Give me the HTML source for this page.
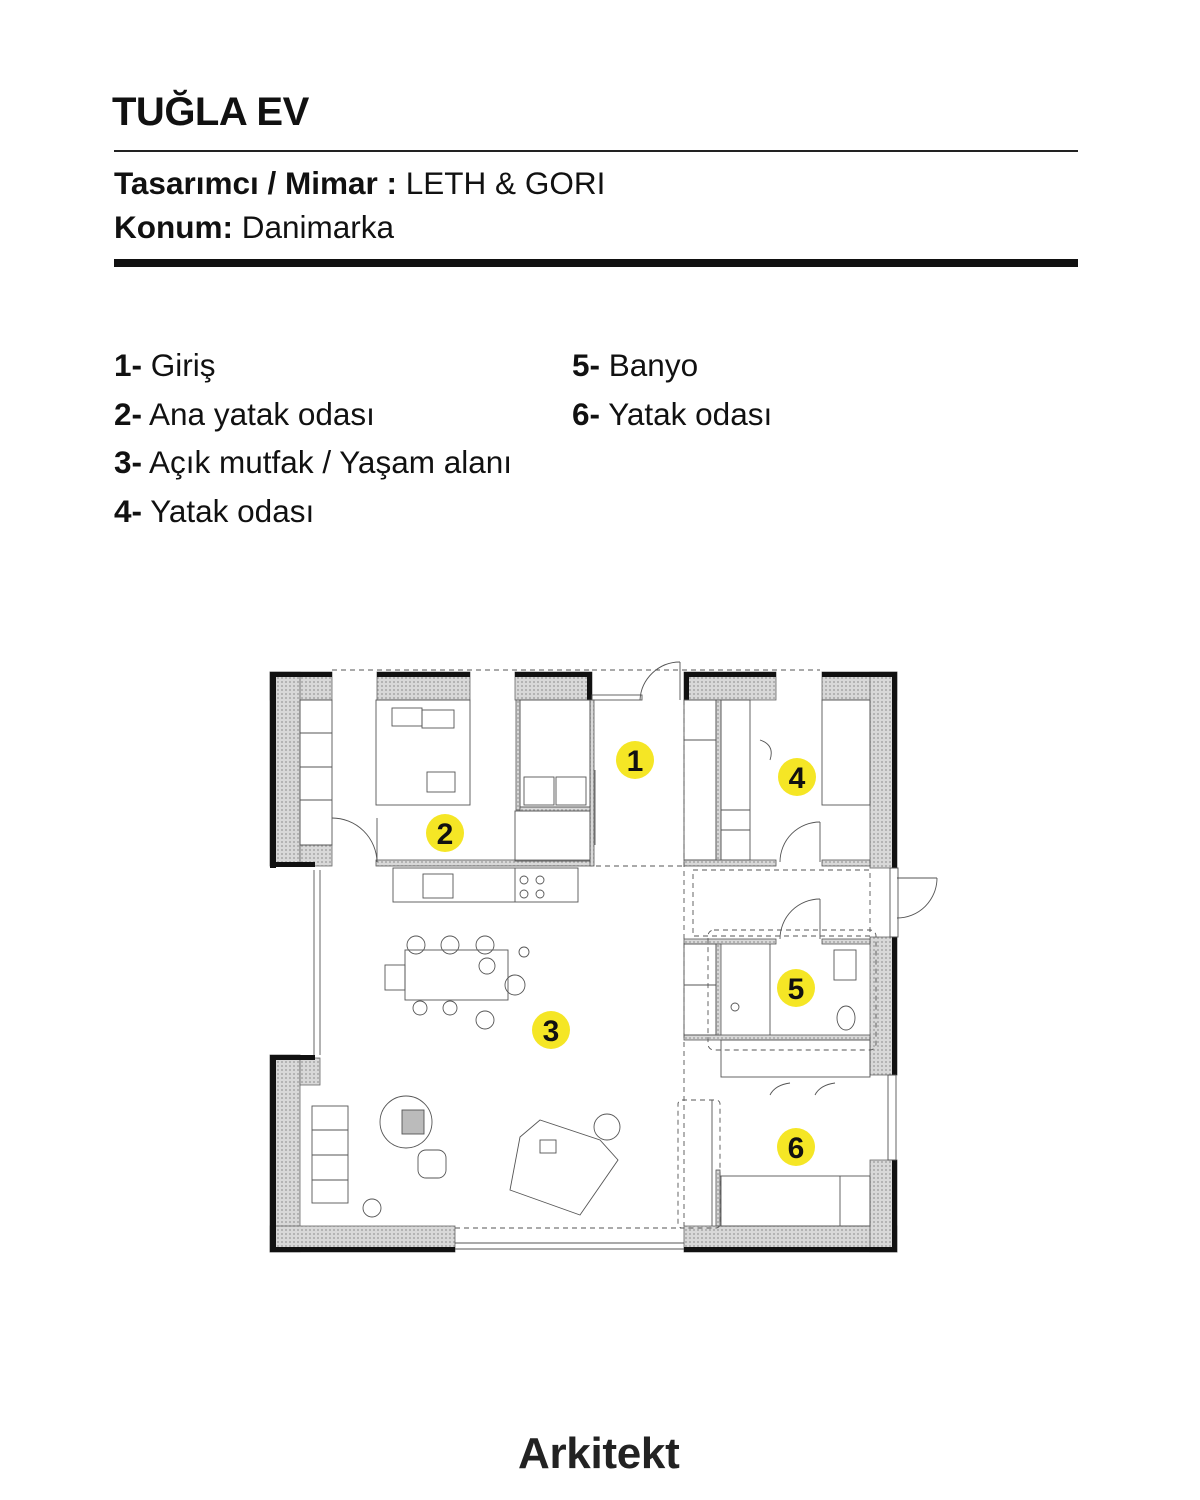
<!DOCTYPE html>
<html><head><meta charset="utf-8"><style>
html,body{margin:0;padding:0;background:#fff;}
body{width:1200px;height:1500px;position:relative;font-family:"Liberation Sans",Arial,sans-serif;color:#111;overflow:hidden;}
.t{position:absolute;white-space:nowrap;}
</style></head><body>
<div class="t" style="left:112px;top:90px;font-size:40px;font-weight:bold;letter-spacing:-0.5px;">TUĞLA EV</div>
<div style="position:absolute;left:114px;top:150px;width:964px;height:2px;background:#222;"></div>
<div class="t" style="left:114px;top:165px;font-size:31.5px;"><b>Tasarımcı / Mimar :</b> LETH &amp; GORI</div>
<div class="t" style="left:114px;top:209px;font-size:31.5px;"><b>Konum:</b> Danimarka</div>
<div style="position:absolute;left:114px;top:259px;width:964px;height:8px;background:#111;"></div>

<div class="t" style="left:114px;top:347px;font-size:31.5px;"><b>1-</b> Giriş</div>
<div class="t" style="left:114px;top:396px;font-size:31.5px;"><b>2-</b> Ana yatak odası</div>
<div class="t" style="left:114px;top:444px;font-size:31.5px;"><b>3-</b> Açık mutfak / Yaşam alanı</div>
<div class="t" style="left:114px;top:493px;font-size:31.5px;"><b>4-</b> Yatak odası</div>
<div class="t" style="left:572px;top:347px;font-size:31.5px;"><b>5-</b> Banyo</div>
<div class="t" style="left:572px;top:396px;font-size:31.5px;"><b>6-</b> Yatak odası</div>

<svg style="position:absolute;left:0;top:0" width="1200" height="1500">
<defs>
<pattern id="h" width="4" height="4" patternUnits="userSpaceOnUse"><rect width="4" height="4" fill="#d8d8d8"/><circle cx="2" cy="2" r="0.9" fill="#999"/></pattern>
</defs>
<g fill="url(#h)" stroke="#666" stroke-width="0.8">
<rect x="270" y="672" width="62" height="28"/>
<rect x="377" y="672" width="93" height="28"/>
<rect x="515" y="672" width="77" height="28"/>
<rect x="684" y="672" width="92" height="28"/>
<rect x="822" y="672" width="75" height="28"/>
<rect x="270" y="672" width="30" height="194"/>
<rect x="270" y="1055" width="30" height="197"/>
<rect x="300" y="1058" width="20" height="27"/>
<rect x="270" y="1226" width="185" height="26"/>
<rect x="684" y="1226" width="213" height="26"/>
<rect x="870" y="672" width="27" height="196"/>
<rect x="870" y="937" width="27" height="138"/>
<rect x="870" y="1160" width="27" height="92"/>
<rect x="300" y="845" width="32" height="21"/>
</g>
<g fill="#111">
<rect x="270" y="672" width="62" height="5"/><rect x="377" y="672" width="93" height="5"/><rect x="515" y="672" width="77" height="5"/>
<rect x="587" y="672" width="5" height="28"/>
<rect x="684" y="672" width="92" height="5"/><rect x="684" y="672" width="5" height="28"/><rect x="822" y="672" width="75" height="5"/>
<rect x="270" y="672" width="6" height="196"/><rect x="270" y="862" width="45" height="5"/>
<rect x="270" y="1055" width="6" height="197"/><rect x="270" y="1055" width="45" height="5"/>
<rect x="270" y="1247" width="185" height="5"/><rect x="684" y="1247" width="213" height="5"/>
<rect x="892" y="672" width="5" height="196"/><rect x="892" y="937" width="5" height="138"/><rect x="892" y="1160" width="5" height="92"/>
</g>
<g fill="url(#h)" stroke="#555" stroke-width="0.8">
<rect x="376" y="860" width="216" height="6"/>
<rect x="684" y="860" width="92" height="6"/><rect x="822" y="860" width="48" height="6"/>
<rect x="590" y="700" width="4" height="166"/>
<rect x="516" y="700" width="4" height="110"/>
<rect x="520" y="807" width="70" height="4"/>
<rect x="716" y="700" width="5" height="160"/>
<rect x="684" y="939" width="92" height="5"/><rect x="822" y="939" width="48" height="5"/>
<rect x="684" y="1035" width="186" height="5"/>
<rect x="716" y="944" width="5" height="91"/>
<rect x="716" y="1170" width="4" height="56"/>
</g>
<g fill="none" stroke="#555" stroke-width="0.9">
<rect x="300" y="700" width="32" height="145"/><line x1="300" y1="733" x2="332" y2="733"/><line x1="300" y1="767" x2="332" y2="767"/><line x1="300" y1="800" x2="332" y2="800"/>
<rect x="376" y="700" width="94" height="105"/><rect x="392" y="708" width="30" height="18"/><rect x="422" y="710" width="32" height="18"/>
<rect x="427" y="772" width="28" height="20"/>
<path d="M332 818 A45 45 0 0 1 377 862"/><line x1="377" y1="818" x2="377" y2="862"/>
<rect x="520" y="700" width="70" height="107"/><rect x="524" y="777" width="30" height="28"/><rect x="556" y="777" width="30" height="28"/>
<rect x="515" y="811" width="75" height="50"/>
<line x1="595" y1="770" x2="595" y2="845"/>
<path d="M640 700 A40 40 0 0 1 680 662"/><line x1="680" y1="662" x2="680" y2="700"/>
<rect x="592" y="695" width="50" height="5"/>
<line x1="592" y1="670" x2="820" y2="670" stroke-dasharray="5 4"/>
<line x1="332" y1="670" x2="592" y2="670" stroke-dasharray="5 4"/>
<rect x="684" y="700" width="32" height="160"/><line x1="684" y1="740" x2="716" y2="740"/>
<rect x="721" y="700" width="29" height="160"/><line x1="721" y1="810" x2="750" y2="810"/><line x1="721" y1="830" x2="750" y2="830"/>
<rect x="822" y="700" width="48" height="105"/>
<path d="M780 862 A40 40 0 0 1 820 822"/><line x1="820" y1="822" x2="820" y2="862"/>
<path d="M760 740 q15 5 10 20"/>
<rect x="393" y="868" width="185" height="34"/><rect x="423" y="874" width="30" height="24"/>
<circle cx="524" cy="880" r="4"/><circle cx="540" cy="880" r="4"/><circle cx="524" cy="894" r="4"/><circle cx="540" cy="894" r="4"/><line x1="515" y1="868" x2="515" y2="902"/>
<line x1="314" y1="870" x2="314" y2="1055"/><line x1="320" y1="870" x2="320" y2="1055"/>
<rect x="405" y="950" width="103" height="50"/><rect x="385" y="965" width="20" height="25"/>
<circle cx="416" cy="945" r="9"/><circle cx="450" cy="945" r="9"/><circle cx="485" cy="945" r="9"/>
<circle cx="420" cy="1008" r="7"/><circle cx="450" cy="1008" r="7"/><circle cx="485" cy="1020" r="9"/>
<circle cx="487" cy="966" r="8"/><circle cx="515" cy="985" r="10"/><circle cx="524" cy="952" r="5"/>
<rect x="312" y="1106" width="36" height="97"/><line x1="312" y1="1130" x2="348" y2="1130"/><line x1="312" y1="1155" x2="348" y2="1155"/><line x1="312" y1="1180" x2="348" y2="1180"/>
<circle cx="406" cy="1122" r="26"/><rect x="402" y="1110" width="22" height="24" fill="#bbb"/>
<rect x="418" y="1150" width="28" height="28" rx="8"/>
<circle cx="372" cy="1208" r="9"/>
<path d="M510 1190 L520 1137 L540 1120 L600 1140 L618 1160 L580 1215 Z"/><rect x="540" y="1140" width="16" height="13"/>
<circle cx="607" cy="1127" r="13"/>
<line x1="455" y1="1243" x2="684" y2="1243"/><line x1="455" y1="1249" x2="684" y2="1249"/>
<line x1="455" y1="1228" x2="684" y2="1228" stroke-dasharray="5 4"/>
<line x1="684" y1="700" x2="684" y2="1226" stroke-dasharray="5 4"/>
<line x1="596" y1="866" x2="684" y2="866" stroke-dasharray="5 4"/>
<rect x="693" y="870" width="177" height="66" stroke-dasharray="5 4"/>
<rect x="708" y="930" width="168" height="120" rx="6" stroke-dasharray="5 4"/>
<rect x="678" y="1100" width="42" height="128" rx="4" stroke-dasharray="5 4"/>
<path d="M780 939 A40 40 0 0 1 820 899"/><line x1="820" y1="899" x2="820" y2="939"/>
<path d="M897 918 A40 40 0 0 0 937 878"/><line x1="897" y1="878" x2="937" y2="878"/><rect x="890" y="868" width="8" height="69"/>
<rect x="684" y="944" width="32" height="91"/><line x1="684" y1="985" x2="716" y2="985"/>
<line x1="770" y1="944" x2="770" y2="1035"/>
<rect x="834" y="950" width="22" height="30"/><ellipse cx="846" cy="1018" rx="9" ry="12"/>
<circle cx="735" cy="1007" r="4"/>
<rect x="721" y="1040" width="149" height="37"/>
<path d="M770 1095 q5 -10 20 -12"/><path d="M815 1095 q5 -10 20 -12"/>
<rect x="721" y="1176" width="149" height="50"/><line x1="840" y1="1176" x2="840" y2="1226"/>
<rect x="888" y="1075" width="8" height="85"/>
<line x1="712" y1="1100" x2="712" y2="1226"/>
</g>
<g font-family="Liberation Sans, sans-serif" font-weight="bold" font-size="30" text-anchor="middle" fill="#111">
<circle cx="635" cy="760" r="19" fill="#f5e625"/><text x="635" y="771">1</text>
<circle cx="445" cy="833" r="19" fill="#f5e625"/><text x="445" y="844">2</text>
<circle cx="551" cy="1030" r="19" fill="#f5e625"/><text x="551" y="1041">3</text>
<circle cx="797" cy="777" r="19" fill="#f5e625"/><text x="797" y="788">4</text>
<circle cx="796" cy="988" r="19" fill="#f5e625"/><text x="796" y="999">5</text>
<circle cx="796" cy="1147" r="19" fill="#f5e625"/><text x="796" y="1158">6</text>
</g>
</svg>
<div class="t" style="left:518px;top:1429px;font-size:44px;font-weight:bold;letter-spacing:-0.3px;color:#222;">Arkitekt</div>
</body></html>
